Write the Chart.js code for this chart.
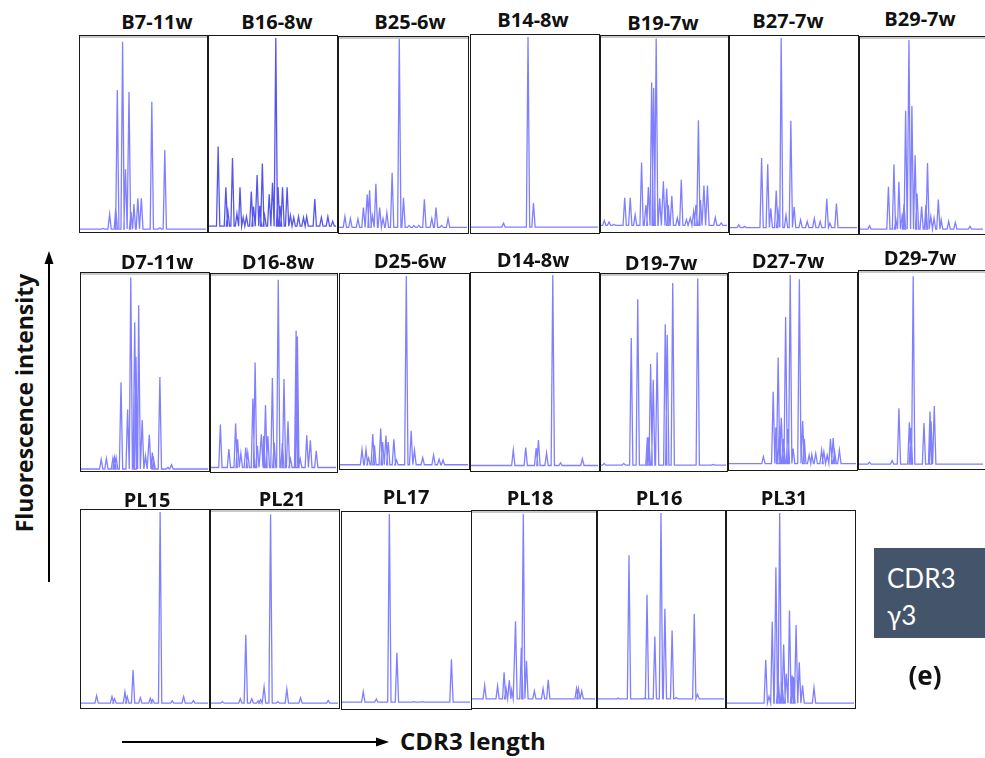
<!DOCTYPE html>
<html><head><meta charset="utf-8">
<script src="https://cdn.jsdelivr.net/npm/chart.js@4/dist/chart.umd.min.js"></script>
<style>
html,body{margin:0;padding:0;background:#fff;width:985px;height:758px;overflow:hidden;position:relative;font-family:"Open Sans",Lato,sans-serif;}
.box{position:absolute;box-sizing:border-box;border:1.5px solid #1a1a1a;background:#fff;overflow:hidden;}
.box.gray::before{content:"";position:absolute;left:0;right:0;top:0;height:2px;background:#c8c8c8;z-index:2;}
.box canvas{position:absolute;left:0;top:0;}
.title{position:absolute;transform:translate(-50%,-50%);font-weight:700;font-size:20px;line-height:1;color:#111;white-space:nowrap;}
.lbl{position:absolute;font-weight:700;color:#111;white-space:nowrap;line-height:1;}
</style></head>
<body>
<script>
// ---------- DATA ----------
const panelNames = ["B7-11w","B16-8w","B25-6w","B14-8w","B19-7w","B27-7w","B29-7w",
  "D7-11w","D16-8w","D25-6w","D14-8w","D19-7w","D27-7w","D29-7w",
  "PL15","PL21","PL17","PL18","PL16","PL31"];
// baseline level of each trace (% of panel height)
const baselines = [1,2.5,2.4,2.5,2.9,2.8,2, 0.5,1.8,1.7,2.3,2.5,2.8,2, 2,2,3,4.2,4.2,2];
// peak positions (% of CDR3 length axis) and peak heights (% of max fluorescence)
const posB7  = [18.3,23.5,28.4,29.6,33.8,36.1,38.9,40.5,42.8,45.9,48.7,57,63.4,67.3];
const hB7    = [1.3,8.7,12,73,98,32,72,10,14,17,17,67,1.7,42];
const posB16 = [7.2,13.3,14.9,18.5,22,24.4,26.9,29.5,33.3,35.1,37.9,40,42,43.8,47.4,50,52.6,54.4,55.9,57.9,61.5,64.1,66.7,70.5,74.4,76.9,83.3,88.5,93.6,97.4];
const hB16   = [43.7,22.7,10,37.8,9,22.7,7,7.5,20.5,12.6,29,13,35,8,19,25,100,22.7,13,22.7,22.7,8,7,7.5,7,7.5,16.5,7,7.5,5];
const posB25 = [4.6,8.9,14.8,19.1,22.1,23.9,26.2,28.8,31.8,34.4,37.4,41.5,47.1,50.4,54.7,58.5,62.3,66.7,72.5,75.8,80.2,85.2];
const hB25   = [8,7,6.8,12.7,19.4,21.6,8.4,25,12.7,7,10,30.7,100,17.7,3.4,3.4,3.4,16.9,7,12.7,3.4,7];
const posB14 = [25.6,44.9,49.2];
const hB14   = [4.5,100,14.8];
const posB19 = [2.6,6.4,10.3,18.8,23.2,27.1,32.2,35.6,37.6,40.2,41.8,43.8,46.6,49.5,52.1,53.4,56.2,60.6,63.7,67.8,70.9,73.5,75.3,77.3,78.9,81.7,84.5,90.7,95.4];
const hB19   = [5.4,4.7,3.4,17.2,17.2,8.4,35.5,13.5,22.8,76.9,74,99.7,16.9,25.7,22,13.5,18.2,6.8,26.5,5.9,6.8,10,13.5,57.4,16,23.6,23.6,7,4.2];
const posB27 = [6.9,11.5,24.9,29.7,32.1,36.4,37.9,40.3,44.1,47.9,50.5,55.6,60.8,66.4,71,76.2,78.7,83.8];
const hB27   = [4.2,3.4,38.5,35.2,12.6,21.8,10.9,100,9.2,57.5,13.4,6.7,5.9,7.5,5.9,17.6,5,15.1];
const posB29 = [7.7,23.1,27.6,29.2,31.6,34.2,35.8,37.1,39.8,42.2,44.8,46.4,50.1,53.6,54.9,57.6,60.2,63.7,66,72.1,77.5,89.4];
const hB29   = [3.7,23.8,35.4,6.8,26.4,8.5,15,63,99.5,65.5,40,20.4,13.6,14.5,36,8.5,7.7,17.3,6.8,6,5.4,3.4];
const posD7  = [15.9,20,25.1,26.4,27.7,31.5,36.7,39.2,42.3,43.3,45.4,48.2,50.8,53.8,56.2,57.2,62.1,68.5,71.3];
const hD7    = [5.5,5.9,6,6.4,6.4,45,31,98.7,75.8,58,84.4,25.6,7.2,18,9,5.5,47.7,1.3,2.7];
const posD16 = [7.5,14.3,19.7,21.3,23.9,27.8,29.4,33.5,35.3,37.1,40.3,42.1,43.6,45.5,49.1,50.6,53.8,57.1,58.4,61.6,63.6,68.1,69.1,71.4,76.6,79.5,84.2];
const hD16   = [23.8,11.2,24.3,16.2,9.2,12,9.5,37.2,55.6,12.9,18.8,17.9,33.8,17.9,47.7,14.6,98,14.2,47.2,25.5,6.2,71.9,69,6.2,18.3,15.7,10.4];
const posD25 = [17.2,20.3,22.3,25.6,26.9,31.8,33.3,35.9,37.7,42.1,44.1,51.8,55.6,58.2,64.6,73.1,77.4,80.5];
const hD25   = [9.6,9.6,5.1,17.7,11.8,20.6,13.5,16.9,13.5,14.9,4.2,100,19.4,9.3,5.4,6.8,4.6,4.2];
const posD14 = [33.3,43.1,51.3,53.1,59.5,64.4,70.5,87.7];
const hD14   = [10.3,11.5,11.2,15.3,8.7,100,3.7,5.8];
const posD19 = [2.6,18.2,24.2,29.4,37.1,38.2,39.7,41.8,44.9,51.4,53,57.4,77.4,89.6];
const hD19   = [3.4,3.4,68,88,16.8,16.8,54.6,46.5,60.5,75.1,69.7,96.3,98.7,2.9];
const posD27 = [27.1,34.8,36.9,38.7,39.7,41.2,43,44.6,46.4,48.2,50.5,55.4,58,59.3,63.1,65.2,68.3,72.9,74.7,77.3,79.9,82,83.2,86.9];
const hD27   = [6.4,39.8,21.4,57.4,22.2,26.4,15.6,78.3,20.6,100,10.5,97.8,24.7,15.6,7.2,7.5,8,9.7,8.9,7.2,15.6,15.9,8.9,9.7];
const posD29 = [8.4,26.7,32.2,40.6,41.9,43.7,52.4,57.3,58.1,60.7];
const hD29   = [3,3.8,30.6,23.4,20.6,98.3,23,29,23.9,31.8];
const posPL15 = [12.3,24.4,26.4,34.6,36.4,41,46.7,54.6,56.4,62.3,71.8,80.8,88.5];
const hPL15   = [5.8,5.3,4.2,7.8,5.3,19,4.8,4.5,3.7,100,3.2,5.3,3.3];
const posPL21 = [9,23.1,27.4,32.1,37.2,39,41.8,46.9,52.6,59.7,70.5,92.3];
const hPL21   = [2.8,4.2,37,4.2,3.2,3.7,10.3,98.7,2.8,9.2,4.8,3.3];
const posPL17 = [16.6,26.8,37,42.9,56.1,63,85.5];
const hPL17   = [8.4,4.7,100,28.4,3.3,3.3,25.1];
const posPL18 = [10.3,20.8,26.1,27.7,30.3,32.2,35.4,40.1,41.7,44.3,50.7,57.8,62,85,86.5,89.2];
const hPL18   = [11.2,10.9,17.9,9.5,13.7,8.7,44.2,30.5,99.5,23.8,8.2,9.5,14,9.5,9.5,8.2];
const posPL16 = [15.8,24.6,37,38.9,45.1,50,53.1,58.8,62.2,76.4,79];
const hPL16   = [4.5,78.2,4.5,57.8,36.3,100,50.6,39.4,4.9,48,6.5];
const posPL31 = [30.5,33.1,35.6,38.5,40.3,41.5,43.3,44.6,46.7,49.2,51.3,52.3,54.4,56.9,59.5,68.5];
const hPL31   = [24.3,5.4,43.9,71.9,14.6,100,12.9,32.2,17.1,49.7,16.2,15.4,42.2,23,11.2,10];

const peakPositions = [posB7,posB16,posB25,posB14,posB19,posB27,posB29,posD7,posD16,posD25,posD14,posD19,posD27,posD29,posPL15,posPL21,posPL17,posPL18,posPL16,posPL31];
const peakHeights   = [hB7,hB16,hB25,hB14,hB19,hB27,hB29,hD7,hD16,hD25,hD14,hD19,hD27,hD29,hPL15,hPL21,hPL17,hPL18,hPL16,hPL31];

// ---------- LAYOUT (positions / styles only) ----------
// [left, top, right, bottom, plotWidth, grayTop, titleCx, titleCy]
const L = [
 [79,35,208,233,null,1,157,22],[208,35,338,233,null,0,277,22],[338,36,469,234,null,1,410,22],
 [470,34,600,234,null,0,533,20],[600,35,729,233,null,1,663,23],[729,35,859,235,null,0,788,21],
 [859,36,1000,235,126,1,920,19],
 [80,272,210,472,null,1,157,262],[210,273,338,473,null,1,278,262],[339,273,470,470,null,0,410,261],
 [470,272,600,472,null,0,533,260],[600,273,728,472,null,1,661,263],[728,272,858,471,null,0,788,261],
 [858,270,1000,470,127,1,920,258],
 [80,509,210,709,null,0,147,500],[210,509,340,709,null,1,282,499],[341,511,472,710,null,0,406,497],
 [471,510,597,709,null,1,530,498],[597,510,726,709,null,0,659,498],[726,510,856,709,null,0,784,498]
];
const HALF = 1.3;

function buildTrace(pos, h, base){
  const idx = pos.map((p,i)=>i).sort((a,b)=>pos[a]-pos[b]);
  const pts = [{x:0,y:base}];
  idx.forEach(i=>{
    pts.push({x:pos[i]-HALF,y:base});
    pts.push({x:pos[i],y:h[i]});
    pts.push({x:pos[i]+HALF,y:base});
  });
  pts.push({x:100,y:base});
  return pts;
}

L.forEach((l,i)=>{
  const [x0,y0,x1,y1,pw,gray,tcx,tcy] = l;
  const box = document.createElement('div');
  box.className = 'box' + (gray ? ' gray' : '');
  box.style.left = x0+'px'; box.style.top = y0+'px';
  box.style.width = (x1-x0)+'px'; box.style.height = (y1-y0)+'px';
  document.body.appendChild(box);
  const cw = (pw || (x1-x0)) - 3, ch = (y1-y0) - 3;
  const cv = document.createElement('canvas');
  cv.width = cw; cv.height = ch;
  cv.style.width = cw+'px'; cv.style.height = ch+'px';
  box.appendChild(cv);
  const t = document.createElement('div');
  t.className = 'title'; t.textContent = panelNames[i];
  t.style.left = tcx+'px'; t.style.top = tcy+'px';
  document.body.appendChild(t);
  const col = (i===1) ? 'rgba(55,55,235,0.85)' : 'rgba(95,95,255,0.8)';
  new Chart(cv, {
    type:'line',
    data:{datasets:[{data:buildTrace(peakPositions[i], peakHeights[i], baselines[i]),
      borderColor:col, borderWidth:1.3, pointRadius:0, fill:false, tension:0}]},
    options:{
      responsive:false, animation:false, parsing:false,
      layout:{padding:0},
      plugins:{legend:{display:false}, tooltip:{enabled:false}, title:{display:false}},
      scales:{
        x:{type:'linear', min:0, max:100, display:false},
        y:{type:'linear', min:0, max:101, display:false}
      }
    }
  });
});
</script>

<!-- axis labels & arrows -->
<div class="lbl" style="left:24px;top:403px;font-size:23px;transform:translate(-50%,-50%) rotate(-90deg);">Fluorescence intensity</div>
<div class="lbl" style="left:400px;top:729px;font-size:24px;">CDR3 length</div>
<svg style="position:absolute;left:0;top:0;" width="985" height="758">
  <line x1="49" y1="582" x2="49" y2="262" stroke="#000" stroke-width="2"/>
  <polygon points="49,251 44.5,264 53.5,264" fill="#000"/>
  <line x1="122" y1="742" x2="378" y2="742" stroke="#000" stroke-width="2"/>
  <polygon points="389,742 376,737.5 376,746.5" fill="#000"/>
</svg>

<div style="position:absolute;left:874px;top:548px;width:111px;height:90px;background:#44546a;"></div>
<div class="lbl" style="left:887px;top:560px;font-family:Lato,'Open Sans',sans-serif;font-size:26px;font-weight:400;color:#fff;line-height:37px;white-space:normal;width:90px;">CDR3<br>γ3</div>
<div class="lbl" style="left:925px;top:675px;font-size:26px;transform:translate(-50%,-50%);">(e)</div>
</body></html>
